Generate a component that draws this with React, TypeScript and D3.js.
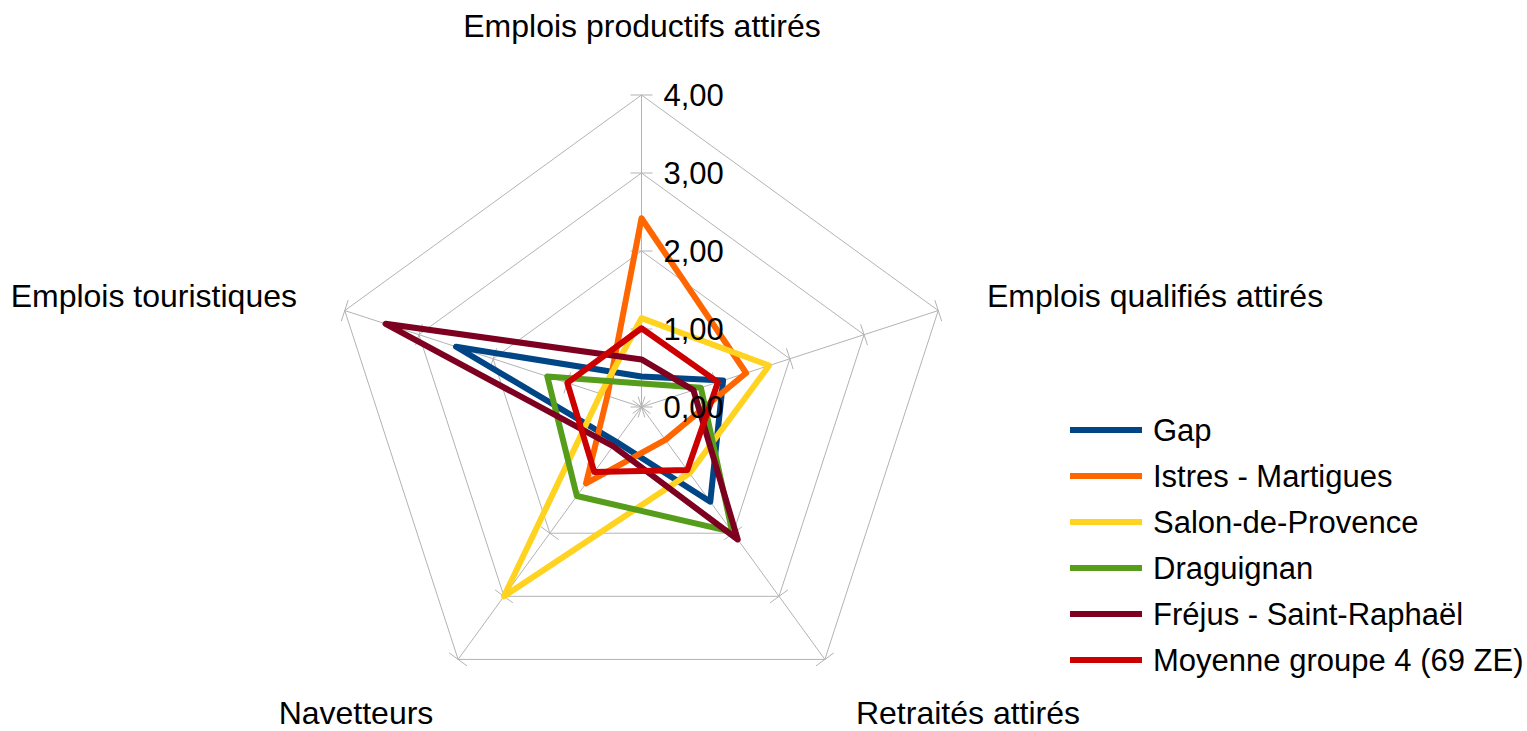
import { useEffect, useRef } from "react";
import * as d3 from "d3";

const AXES = [
	"Emplois productifs attirés",
	"Emplois qualifiés attirés",
	"Retraités attirés",
	"Navetteurs",
	"Emplois touristiques",
];

const TICKS = [0, 1, 2, 3, 4];
const TICK_LABELS = ["0,00", "1,00", "2,00", "3,00", "4,00"];

const SERIES_NAMES = [
	"Gap",
	"Istres - Martigues",
	"Salon-de-Provence",
	"Draguignan",
	"Fréjus - Saint-Raphaël",
	"Moyenne groupe 4 (69 ZE)",
];

const SERIES_COLORS = ["#004586", "#ff6600", "#ffd320", "#579d1c", "#7e0021", "#cc0000"];

const GAP = [0.39, 1.1, 1.5, 0.55, 2.5];
const ISTRES = [2.42, 1.41, 0.52, 1.21, 0.46];
const SALON = [1.14, 1.72, 1.05, 3.0, 0.55];
const DRAGUIGNAN = [0.3, 0.8, 1.98, 1.41, 1.27];
const FREJUS = [0.61, 0.7, 2.1, 0.62, 3.45];
const MOYENNE = [1.01, 1.03, 1.0, 1.03, 1.0];

const SERIES_VALUES = [GAP, ISTRES, SALON, DRAGUIGNAN, FREJUS, MOYENNE];

export default function App() {
	const ref = useRef<SVGSVGElement>(null);

	useEffect(() => {
		const svg = d3.select(ref.current);
		svg.selectAll("*").remove();

		const cx = 641.5;
		const cy = 407;
		const font = "'Liberation Sans', Arial, sans-serif";

		const r = d3.scaleLinear().domain([0, 4]).range([0, 312]);
		const angle = (i: number) => (i * 2 * Math.PI) / AXES.length;
		// point for axis i at value v (angle 0 = up, clockwise)
		const pt = (i: number, v: number): [number, number] => [
			cx + r(v) * Math.sin(angle(i)),
			cy - r(v) * Math.cos(angle(i)),
		];

		const g = svg.append("g");

		// grid pentagons
		TICKS.slice(1).forEach(t => {
			g.append("polygon")
				.attr("points", AXES.map((_, i) => pt(i, t).join(",")).join(" "))
				.attr("fill", "none")
				.attr("stroke", "#b3b3b3")
				.attr("stroke-width", 1);
		});

		// spokes + tick marks
		AXES.forEach((_, i) => {
			const [x2, y2] = pt(i, 4);
			g.append("line")
				.attr("x1", cx).attr("y1", cy)
				.attr("x2", x2).attr("y2", y2)
				.attr("stroke", "#b3b3b3")
				.attr("stroke-width", 1);

			const a = angle(i);
			const px = Math.cos(a) * 11;
			const py = Math.sin(a) * 11;
			TICKS.forEach(t => {
				const [x, y] = pt(i, t);
				g.append("line")
					.attr("x1", x - px).attr("y1", y - py)
					.attr("x2", x + px).attr("y2", y + py)
					.attr("stroke", "#b3b3b3")
					.attr("stroke-width", 1);
			});
		});

		// series
		const line = d3.lineRadial<number>()
			.angle((_, i) => angle(i))
			.radius(d => r(d))
			.curve(d3.curveLinearClosed);

		SERIES_VALUES.forEach((vals, s) => {
			g.append("path")
				.attr("transform", `translate(${cx},${cy})`)
				.attr("d", line(vals))
				.attr("fill", "none")
				.attr("stroke", SERIES_COLORS[s])
				.attr("stroke-width", 6)
				.attr("stroke-linejoin", "round");
		});

		// tick labels (drawn over the series, like the original)
		TICKS.forEach((t, k) => {
			g.append("text")
				.attr("x", cx + 22)
				.attr("y", cy - r(t))
				.attr("dy", "0.36em")
				.attr("font-family", font)
				.attr("font-size", 31)
				.attr("fill", "#000")
				.text(TICK_LABELS[k]);
		});

		// axis labels
		const labelPos: { x: number; y: number; anchor: string }[] = [
			{ x: 642, y: 37, anchor: "middle" },
			{ x: 987, y: 307, anchor: "start" },
			{ x: 968, y: 724, anchor: "middle" },
			{ x: 356, y: 724, anchor: "middle" },
			{ x: 297, y: 307, anchor: "end" },
		];
		AXES.forEach((name, i) => {
			g.append("text")
				.attr("x", labelPos[i].x)
				.attr("y", labelPos[i].y)
				.attr("text-anchor", labelPos[i].anchor)
				.attr("font-family", font)
				.attr("font-size", 32)
				.attr("fill", "#000")
				.text(name);
		});

		// legend
		const legend = g.append("g").attr("transform", "translate(1070, 430)");
		SERIES_NAMES.forEach((name, i) => {
			const row = legend.append("g").attr("transform", `translate(0, ${i * 46})`);
			row.append("line")
				.attr("x1", 0).attr("x2", 72)
				.attr("y1", 0).attr("y2", 0)
				.attr("stroke", SERIES_COLORS[i])
				.attr("stroke-width", 6);
			row.append("text")
				.attr("x", 83)
				.attr("y", 0)
				.attr("dy", "0.36em")
				.attr("font-family", font)
				.attr("font-size", 31)
				.attr("fill", "#000")
				.text(name);
		});
	}, []);

	return (
		<svg
			ref={ref}
			width={1527}
			height={731}
			style={{ position: "absolute", left: 0, top: 0, background: "#fff" }}
		/>
	);
}
